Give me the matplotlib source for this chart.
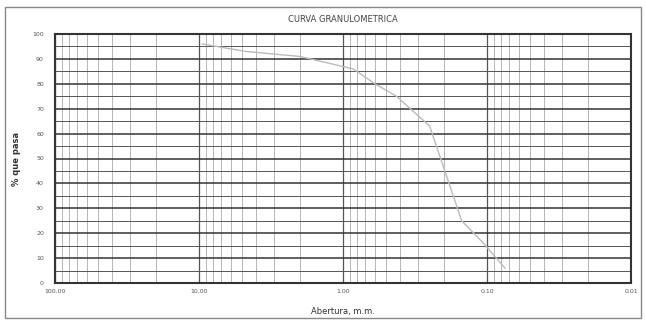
import matplotlib.pyplot as plt
from matplotlib.patches import Rectangle
from matplotlib.ticker import FixedLocator, LogLocator, NullFormatter

# sieve openings (mm) and percent passing
abertura = [9.5, 4.75, 2.0, 0.85, 0.6, 0.425, 0.25, 0.15, 0.106, 0.075]
pasa = [96, 93, 91, 86, 80, 75, 63, 25, 16, 6]

x_ticks = [100, 10, 1, 0.1, 0.01]
x_labels = ['100.00', '10.00', '1.00', '0.10', '0.01']
y_ticks = list(range(0, 101, 10))

fig = plt.figure(figsize=(6.46, 3.2), dpi=100)
fig.patch.set_facecolor('white')
ax = fig.add_axes([55/646, 37/320, 576/646, 249/320])

ax.set_xscale('log')
ax.set_xlim(100, 0.01)
ax.set_ylim(0, 100)

# graph-paper grid: dark horizontals, lighter verticals
ax.xaxis.set_minor_locator(LogLocator(base=10, subs=range(2, 10)))
ax.xaxis.set_minor_formatter(NullFormatter())
ax.yaxis.set_minor_locator(FixedLocator(range(5, 100, 10)))
ax.xaxis.grid(True, which='major', color='#555555', lw=0.9)
ax.xaxis.grid(True, which='minor', color='#999999', lw=0.5)
ax.yaxis.grid(True, which='major', color='#333333', lw=1.1)
ax.yaxis.grid(True, which='minor', color='#555555', lw=0.7)

ax.plot(abertura, pasa, color='#bbbbbb', lw=1.0)

ax.set_xticks(x_ticks)
ax.set_xticklabels(x_labels)
ax.set_yticks(y_ticks)
ax.tick_params(which='both', length=0, labelsize=4.5, colors='#555555')
ax.tick_params(axis='y', pad=8)
ax.tick_params(axis='x', pad=4)
for s in ax.spines.values():
    s.set_color('#333333')
    s.set_linewidth(1.5)

ax.set_xlabel('Abertura, m.m.', fontsize=6, color='#333333', labelpad=10)
ax.set_ylabel('% que pasa', fontsize=6, color='#333333', fontweight='bold', labelpad=8)

# title and outer frame like the printed sheet
fig.text(343/646, 1 - 20/320, 'CURVA GRANULOMETRICA', ha='center', va='center',
         fontsize=6, color='#444444')
fig.add_artist(Rectangle((5/646, 2/320), 636/646, 311/320, transform=fig.transFigure,
                         fill=False, ec='#888888', lw=1.0))

fig.savefig('out.png', dpi=100, facecolor='white')
